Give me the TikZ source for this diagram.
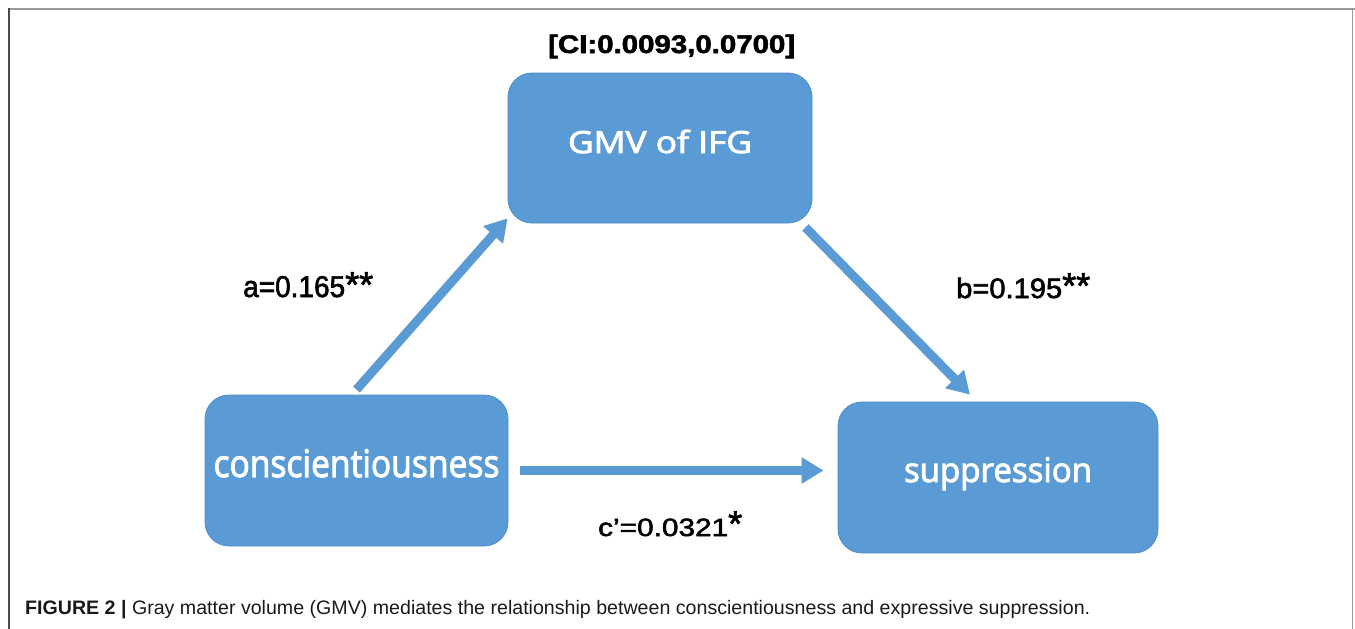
\documentclass[tikz,border=0pt]{standalone}
\usepackage{fontspec}
\usepackage{graphicx}
\setmainfont{Liberation Sans}
\newfontfamily\boxfont[FakeBold=2.6]{Open Sans}
\newfontfamily\lblfont[FakeBold=2]{Liberation Sans}
\usetikzlibrary{arrows.meta}
\definecolor{boxblue}{HTML}{5B9BD5}
\definecolor{boxedge}{HTML}{4F8CC9}
\definecolor{arrowblue}{HTML}{5B9BD5}
\definecolor{framegray}{HTML}{9A9A9A}
\definecolor{framedark}{HTML}{4A4A4A}
\newcommand\wfit[2]{\resizebox{#1}{\height}{#2}}
\begin{document}
\begin{tikzpicture}[x=1pt,y=-1pt,
  box/.style={draw=boxedge, line width=0.8pt, fill=boxblue, rounded corners=24pt,
    inner sep=0pt, text=white},
  conn/.style={draw=arrowblue, line width=9pt, -{Triangle[length=22pt,width=25pt]}},
  lbl/.style={inner sep=0pt, anchor=base west, text=black}]
\useasboundingbox (0,0) rectangle (1355,629);
% frame
\draw[framegray, line width=2pt] (9,9) -- (1355,9);
\draw[framegray, line width=1.5pt] (1352.5,9) -- (1352.5,629);
\draw[framedark, line width=2pt] (9,8) -- (9,629);
% boxes
\node[box, minimum width=304pt, minimum height=150pt, text height=10pt, text depth=0pt] (gmv) at (660,148)
  {\boxfont\fontsize{30.5}{36}\selectfont\wfit{184pt}{GMV of IFG}};
\node[box, minimum width=303pt, minimum height=151pt, text height=13pt, text depth=0pt] (cons) at (356.5,470.5)
  {\boxfont\fontsize{38}{46}\selectfont\wfit{286pt}{conscientiousness}};
\node[box, minimum width=320pt, minimum height=151pt, text height=9pt, text depth=0pt] (sup) at (998,477.5)
  {\boxfont\fontsize{34}{40}\selectfont\wfit{188pt}{suppression}};
% labels
\node[lbl] (ci) at (548,53) {\lblfont\bfseries\fontsize{25.5}{30}\selectfont\wfit{247pt}{[CI:0.0093,0.0700]}};
\node[lbl] (la) at (243,297) {\lblfont\fontsize{30}{36}\selectfont\wfit{102pt}{a=0.165}\fontsize{36}{40}\selectfont**};
\node[lbl] (lb) at (956,298) {\lblfont\fontsize{28}{34}\selectfont\wfit{106pt}{b=0.195}\fontsize{36}{40}\selectfont**};
\node[lbl] (lc) at (598,536) {\lblfont\fontsize{25}{30}\selectfont\wfit{130pt}{c’=0.0321}\fontsize{36}{40}\selectfont*};
% connectors
\draw[conn] ([yshift=5pt]cons.north) -- ([yshift=5pt]gmv.south west);
\draw[conn] ([xshift=-7pt,yshift=-4pt]gmv.south east) -- ([xshift=-28pt,yshift=7pt]sup.north);
\draw[conn] ([xshift=12pt]cons.east) -- ([xshift=-14pt,yshift=7pt]sup.west);
% caption
\node[lbl, text=black!90] (caption) at (25,614) {\fontsize{19.5}{22}\selectfont\wfit{1065pt}{\textbf{FIGURE 2 |} Gray matter volume (GMV) mediates the relationship between conscientiousness and expressive suppression.}};
\end{tikzpicture}
\end{document}
